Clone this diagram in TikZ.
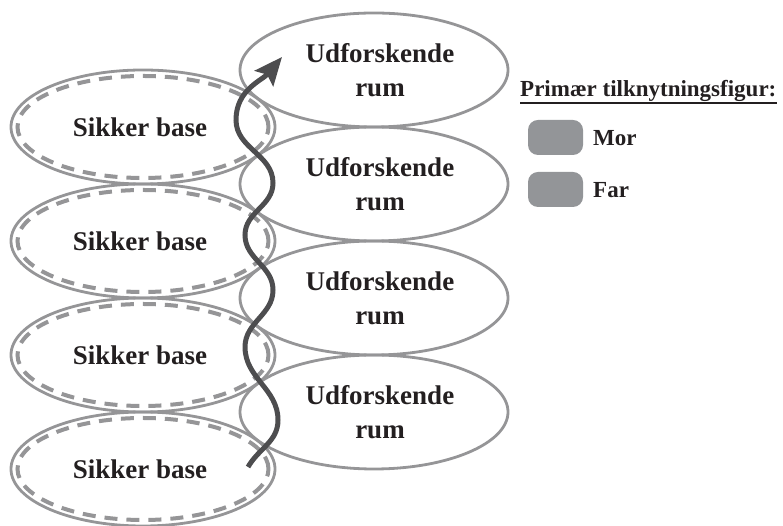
\documentclass[tikz,border=0pt]{standalone}
\usepackage{fontspec}
\setmainfont{Liberation Serif}
\usetikzlibrary{shapes.geometric,arrows.meta}
\definecolor{ringgrey}{HTML}{959597}
\definecolor{legendgrey}{HTML}{939598}
\definecolor{arrowgrey}{HTML}{4D4D4F}
\definecolor{textblack}{HTML}{231F20}
\tikzset{
  basering/.style={ellipse, draw=ringgrey, line width=2.8pt, minimum width=264pt, minimum height=114pt, inner sep=0pt},
  baseinner/.style={ellipse, draw=ringgrey, line width=4pt, dash pattern=on 13pt off 9pt, minimum width=251pt, minimum height=102pt, inner sep=0pt},
  explring/.style={ellipse, draw=ringgrey, line width=2.8pt, minimum width=268pt, minimum height=114pt, inner sep=0pt},
  lbl/.style={text=textblack, font=\bfseries\fontsize{27}{34}\selectfont, align=center, inner sep=0pt},
  legtxt/.style={text=textblack, font=\bfseries\fontsize{23}{28}\selectfont, inner sep=0pt},
  legbox/.style={rounded corners=10pt, fill=legendgrey, minimum width=55pt, minimum height=35pt, inner sep=0pt},
  wave/.style={draw=arrowgrey, line width=5pt, -{Stealth[length=28pt,width=24pt,inset=5pt]}}
}
\begin{document}
\begin{tikzpicture}[x=1pt,y=1pt]
\useasboundingbox (0,0) rectangle (783,526);
% secure base ellipses
\foreach \i/\yy in {1/399,2/285,3/171,4/57}{
  \node[basering] (sb\i) at (143,\yy) {};
  \node[baseinner] (sbi\i) at (143,\yy) {};
  \node[lbl] (sbt\i) at (140,\yy) {Sikker base};
}
% exploration ellipses
\foreach \i/\yy in {1/456,2/342,3/228,4/114}{
  \node[explring] (ur\i) at (374,\yy) {};
  \node[lbl] (urt\i) at (380,\yy) {Udforskende\\rum};
}
% wave arrow
\coordinate (w0) at (248,59);
\coordinate (w1) at (278,106);
\coordinate (w2) at (245,179);
\coordinate (w3) at (273,236);
\coordinate (w4) at (245,291);
\coordinate (w5) at (273,343);
\coordinate (w6) at (236,406);
\coordinate (w7) at (282,469);
\draw[wave] (w0) to[out=60,in=-90] (w1) to[out=90,in=-90] (w2) to[out=90,in=-90] (w3)
  to[out=90,in=-90] (w4) to[out=90,in=-90] (w5) to[out=90,in=-90] (w6) to[out=90,in=-130] (w7);
% legend
\node[legtxt, anchor=base west] (title) at (520,429) {Primær tilknytningsfigur:};
\draw[textblack, line width=1.8pt] ([yshift=-6pt]title.base west) -- ([yshift=-6pt]title.base east);
\node[legbox] (morbox) at (555.5,388.5) {};
\node[legtxt, anchor=west] (mor) at (593,388) {Mor};
\node[legbox] (farbox) at (555.5,336.5) {};
\node[legtxt, anchor=west] (far) at (593,336) {Far};
\end{tikzpicture}
\end{document}
